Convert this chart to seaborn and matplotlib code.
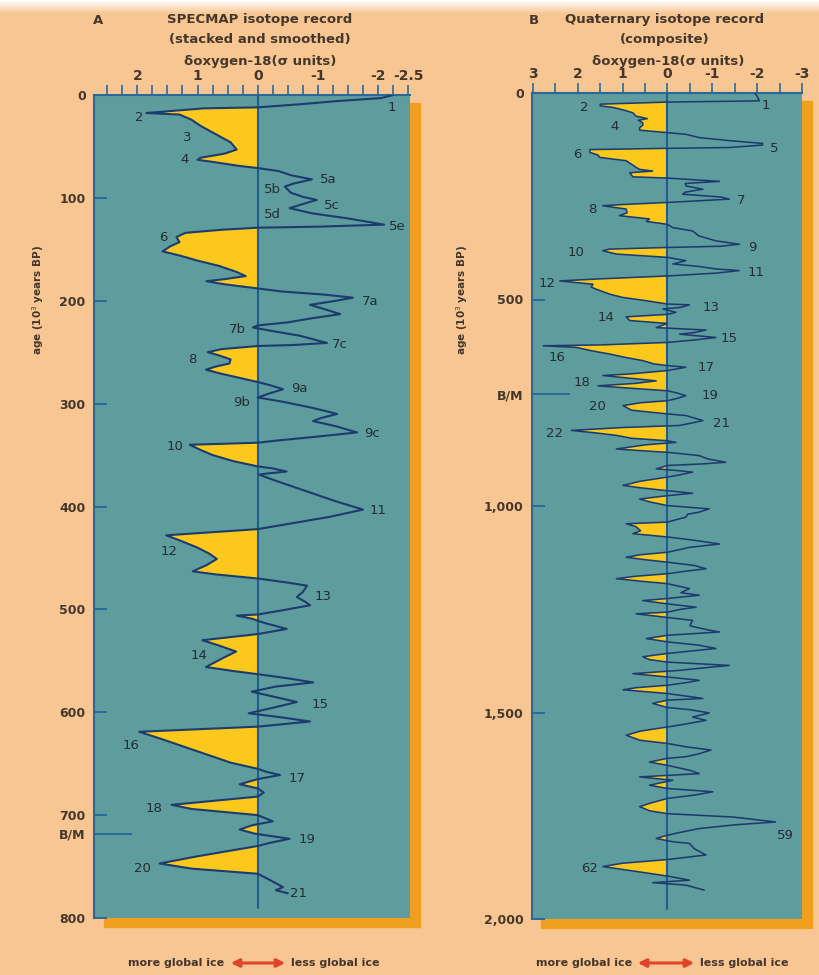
import numpy as np
import pandas as pd
import matplotlib
matplotlib.use("Agg")
import matplotlib.pyplot as plt
import seaborn as sns
from matplotlib.patches import Rectangle, FancyArrowPatch
from matplotlib.colors import LinearSegmentedColormap

# ---------------- data: panel A (SPECMAP) ----------------
ages_a = [0, 3, 6, 9, 12, 13, 17.5, 19, 24, 30, 38, 46, 53, 57, 61, 63, 65, 69, 71,
          74, 78, 82, 86, 89, 95, 99, 102, 106, 110, 115, 120, 124, 126, 128, 129,
          131, 134, 138, 143, 147, 152, 156, 161, 166, 172, 176, 179, 181, 184, 188,
          191, 194, 197, 200, 204, 208, 213, 217, 221, 224, 226, 229, 234, 241, 243, 244,
          247, 250, 253, 257, 261, 264, 267, 271, 275, 279,
          282, 286, 290, 294, 298, 304, 310, 314, 317, 322, 328, 332, 336, 338,
          340, 345, 350, 356, 361, 363, 366, 368, 369, 375, 385, 395, 403, 410, 416, 422,
          428, 434, 440, 446, 451, 457, 463, 466, 470,
          474, 477, 483, 488, 493, 496, 501, 505, 506, 509, 513, 519, 524,
          530, 535, 541, 548, 556, 560, 563,
          567, 571, 575, 580, 584, 590, 595, 601, 605, 609, 614,
          619, 626, 634, 642, 649, 655, 658, 661, 665, 670, 674, 678, 682,
          690, 694, 700, 706, 710, 714, 718, 723, 727, 730,
          740, 747, 752, 757, 763, 770, 773, 776]
d18o_a = [-2.25, -2.05, -1.3, -0.7, 0.0, 0.9, 1.85, 1.3, 1.1, 0.95, 0.7, 0.45, 0.35, 0.55, 0.95, 1.0, 0.75, 0.3, 0.0,
          -0.35, -0.55, -0.9, -0.6, -0.45, -0.55, -0.75, -0.98, -0.75, -0.53, -0.9, -1.5, -1.9, -2.1, -1.0, 0.0,
          0.6, 1.2, 1.35, 1.3, 1.45, 1.58, 1.3, 1.0, 0.65, 0.35, 0.2, 0.55, 0.85, 0.55, 0.0,
          -0.4, -1.1, -1.58, -1.3, -0.87, -1.1, -1.37, -0.9, -0.5, 0.0, 0.08, -0.2, -0.7, -1.15, -0.6, 0.0,
          0.6, 0.83, 0.65, 0.45, 0.47, 0.7, 0.86, 0.6, 0.3, 0.0,
          -0.2, -0.42, -0.2, 0.0, -0.4, -0.9, -1.32, -1.05, -0.92, -1.3, -1.65, -1.0, -0.3, 0.0,
          1.13, 0.95, 0.75, 0.4, 0.0, -0.25, -0.48, -0.15, -0.02, -0.3, -0.8, -1.3, -1.75, -1.2, -0.6, 0.0,
          1.52, 1.25, 1.0, 0.8, 0.68, 0.85, 1.08, 0.7, 0.0,
          -0.5, -0.82, -0.75, -0.65, -0.8, -0.87, -0.4, 0.0, 0.35, 0.1, -0.1, -0.48, 0.0,
          0.92, 0.65, 0.36, 0.6, 0.86, 0.4, 0.0,
          -0.5, -0.92, -0.3, 0.1, -0.2, -0.65, -0.3, 0.15, -0.4, -0.87, 0.0,
          1.97, 1.6, 1.2, 0.8, 0.45, 0.0, -0.15, -0.37, 0.0, 0.3, 0.0, -0.1, 0.0,
          1.43, 1.1, 0.0, -0.25, 0.1, 0.3, 0.05, -0.53, -0.2, 0.0,
          1.0, 1.63, 1.1, 0.0, -0.2, -0.42, -0.3, -0.5]

stage_a = ["1", "2", "3", "4", "5a", "5b", "5c", "5d", "5e", "6", "7a", "7b", "7c", "8",
           "9a", "9b", "9c", "10", "11", "12", "13", "14", "15", "16", "17", "18", "19", "20", "21"]
stage_a_x = [-2.23, 1.97, 1.17, 1.22, -1.17, -0.25, -1.23, -0.25, -2.32, 1.57, -1.87, 0.33, -1.37, 1.08,
             -0.7, 0.27, -1.9, 1.38, -2.0, 1.47, -1.08, 0.97, -1.03, 2.1, -0.65, 1.72, -0.82, 1.92, -0.67]
stage_a_age = [12, 22, 41, 63, 82, 92, 107, 116, 128, 139, 201, 228, 243, 257,
               285, 299, 329, 342, 404, 444, 487, 545, 592, 632, 664, 694, 724, 752, 776]

# ---------------- data: panel B (composite) ----------------
ages_b = [0, 8, 19, 22, 25, 27, 31, 35, 42, 48, 56, 62, 66, 72, 78, 84, 90, 96,
          100, 108, 116, 122, 126, 132, 134,
          137, 144, 150, 156, 164, 180, 185, 189, 193, 203, 206,
          211, 214, 219, 225, 233, 240, 245, 252, 257, 262, 265,
          270, 273, 281, 290, 297, 305, 311, 318,
          326, 334, 346, 358, 366, 371, 374,
          378, 382, 390, 398, 406, 414, 420, 426, 430, 436, 443,
          450, 455, 463, 470, 475, 487, 495, 503, 511,
          513, 519, 523, 531, 536, 542, 551, 558,
          568, 574, 580, 584, 592, 598, 604,
          610, 612, 616, 624, 632, 640, 648, 656, 660, 664, 668, 672,
          680, 684, 690, 697, 703, 709, 715, 721, 726, 733, 740, 745,
          750, 757, 768, 777, 781, 787, 793, 800, 805,
          810, 817, 823, 829, 836, 842, 846, 852, 862, 866, 870,
          878, 886, 894, 898, 902, 910, 914, 918, 924, 930, 940, 950, 956, 963,
          969, 975, 983, 990, 999, 1007, 1015, 1020, 1027, 1033, 1039,
          1043, 1050, 1060, 1067, 1075, 1083, 1092, 1100, 1112, 1118, 1124, 1130, 1136,
          1144, 1152, 1158, 1164, 1170, 1176, 1182, 1188, 1200, 1210, 1216, 1224,
          1229, 1237, 1245, 1250, 1257, 1261, 1266, 1270, 1277, 1290, 1300, 1305, 1313,
          1321, 1329, 1337, 1345, 1357, 1365, 1372, 1378, 1386, 1392, 1398, 1406, 1414,
          1422, 1428, 1434, 1440, 1445, 1454, 1466, 1470, 1478, 1488, 1493, 1501, 1511,
          1519, 1528, 1535, 1545, 1555, 1567, 1575, 1583, 1591, 1600, 1607, 1611,
          1620, 1628, 1640, 1648, 1656, 1664, 1676, 1684, 1692, 1700, 1708,
          1720, 1728, 1738, 1745, 1753, 1760, 1765, 1772, 1781, 1790, 1797,
          1805, 1813, 1817, 1830, 1845, 1856, 1865, 1873, 1880, 1886, 1896,
          1906, 1912, 1918, 1930]
d18o_b = [-1.95, -2.0, -2.05, 0.0, 0.9, 1.5, 1.5, 1.21, 0.95, 0.77, 0.7, 0.45, 0.65, 0.55, 0.55, 0.62, 0.62, 0.0,
          -0.41, -0.71, -1.45, -2.12, -2.12, -1.38, 0.0,
          1.73, 1.73, 1.55, 1.51, 0.92, 0.7, 0.62, 0.33, 0.84, 0.77, 0.0,
          -0.71, -1.16, -0.4, -0.41, -0.79, -0.4, -0.34, -1.2, -1.38, -0.5, 0.0,
          1.0, 1.44, 0.92, 0.9, 1.07, 0.4, 0.47, 0.0,
          -0.12, -0.56, -0.7, -1.08, -1.6, -1.2, 0.0,
          1.3, 1.44, 1.14, 0.0, -0.41, -0.12, -0.7, -1.08, -1.6, -1.1, 0.0,
          1.5, 2.4, 1.66, 1.7, 1.59, 1.29, 1.0, 0.47, 0.0,
          -0.49, -0.3, 0.1, -0.19, 0.0, 0.92, 0.84, 0.0,
          0.25, -0.86, -0.6, -0.27, -1.08, -0.6, 0.0,
          1.5, 2.77, 2.03, 1.7, 1.29, 0.95, 0.55, 0.3, 0.0, -0.41, -0.2, 0.0,
          0.8, 1.44, 0.9, 0.25, 0.7, 1.55, 0.8, 0.0, -0.2, -0.41, -0.2, 0.0,
          0.6, 0.99, 0.8, 0.0, -0.41, -0.6, -0.79, -0.5, -0.27,
          1.0, 2.14, 1.6, 1.14, 0.8, 0.0, -0.19, 0.5, 1.14, 0.6, 0.0,
          -0.71, -0.9, -1.3, -0.8, 0.0, 0.25, -0.2, -0.56, -0.3, 0.0, 0.6, 0.99, 0.6, 0.0,
          -0.56, 0.0, 0.62, 0.4, 0.0, -0.93, -0.7, -0.45, -0.41, -0.2, 0.0,
          0.92, 0.7, 0.6, 0.77, 0.0, -0.6, -1.16, -0.5, 0.0, 0.6, 0.92, 0.5, 0.0,
          -0.6, -0.86, -0.4, 0.0, 0.7, 1.14, 0.6, 0.0, -0.49, -0.3, -0.71, 0.0,
          0.55, 0.0, -0.64, -0.3, 0.0, 0.7, 0.3, 0.0, -0.56, -0.5, -0.9, -1.16, 0.0,
          0.47, 0.0, -0.7, -1.08, 0.0, 0.55, 0.4, 0.0, -1.38, -0.8, -0.27, 0.77, 0.0,
          -0.71, -0.4, 0.0, 0.7, 0.99, 0.0, -0.79, 0.0, 0.33, 0.0, -0.49, -0.93, -0.56,
          -0.86, -0.4, 0.0, 0.6, 0.92, 0.62, 0.0, -0.41, -0.97, -0.7, -0.41, 0.0,
          0.4, 0.0, -0.5, -0.71, 0.62, -0.12, 0.4, 0.0, -1.01, -0.6, 0.0,
          0.4, 0.62, 0.4, 0.0, -1.45, -2.0, -2.41, -1.5, -0.71, -0.3, 0.0,
          0.25, -0.12, -0.49, -0.6, -0.86, 0.0, 1.0, 1.44, 1.0, 0.62, 0.0,
          -0.49, 0.33, -0.41, -0.82]

stage_b = ["1", "2", "4", "5", "6", "7", "8", "9", "10", "11", "12", "13", "14", "15",
           "16", "17", "18", "19", "20", "21", "22", "59", "62"]
stage_b_x = [-2.2, 1.85, 1.18, -2.38, 2.02, -1.64, 1.67, -1.9, 2.05, -1.98, 2.69, -0.97, 1.36, -1.38,
             2.47, -0.87, 1.91, -0.95, 1.55, -1.2, 2.51, -2.64, 1.73]
stage_b_age = [31, 36, 80, 135, 148, 261, 281, 375, 385, 435, 462, 520, 544, 595,
               640, 665, 701, 733, 760, 800, 825, 1797, 1877]

xt_a = [2, 1, 0, -1, -2, -2.5]
xt_a_lbl = ["2", "1", "0", "-1", "-2", "-2.5"]
xt_b = [3, 2, 1, 0, -1, -2, -3]
xt_b_lbl = ["3", "2", "1", "0", "-1", "-2", "-3"]
yt_a = [0, 100, 200, 300, 400, 500, 600, 700, 800]
yt_a_lbl = ["0", "100", "200", "300", "400", "500", "600", "700", "800"]
bm_a = 718
yt_b = [0, 500, 1000, 1500, 2000]
yt_b_lbl = ["0", "500", "1,000", "1,500", "2,000"]
bm_b = 730

# ---------------- style ----------------
sns.set_style("white")
plt.rcParams['font.family'] = ['DejaVu Sans']
plt.rcParams['axes.unicode_minus'] = False

PEACH = "#F8C692"
TEAL = "#5E9C9E"
YELLOW = "#FDC81C"
LINE = "#1D3C6E"
ZERO = "#1F5E92"
SPINE = "#2A6A9A"
ORANGE = "#F0A01E"
TXT = "#45372C"
LAB = "#232D33"
RED = "#E0442A"

W, H = 819, 975
fig = plt.figure(figsize=(W / 100, H / 100), dpi=100)
fig.patch.set_facecolor(PEACH)


def rect(x0, y0, x1, y1):
    return [x0 / W, 1 - y1 / H, (x1 - x0) / W, (y1 - y0) / H]


def fx(x):
    return x / W


def fy(y):
    return 1 - y / H


# white haze at the very top
gax = fig.add_axes([0, 1 - 14 / H, 1, 14 / H])
grad = np.linspace(0, 1, 50).reshape(-1, 1)
cm = LinearSegmentedColormap.from_list("g", ["#FFFFFF", PEACH])
gax.imshow(grad, aspect="auto", cmap=cm, extent=[0, 1, 0, 1])
gax.axis("off")

# orange drop shadows
for (x0, y0, x1, y1) in [(104, 103, 420, 927), (541, 101, 812, 928)]:
    fig.add_artist(Rectangle((fx(x0), fy(y1)), (x1 - x0) / W, (y1 - y0) / H,
                             transform=fig.transFigure, color=ORANGE, zorder=-1))

axA = fig.add_axes(rect(94, 95, 410, 918))
axB = fig.add_axes(rect(532, 93, 802, 919))


def panel(ax, ages, vals, xlim, ymax, lw, xt, xtl, minor_step, yt, ytl, bm, labels, lx, lage):
    ax.set_facecolor(TEAL)
    a = np.asarray(ages, float)
    v = np.asarray(vals, float)
    ax.fill_betweenx(a, v, 0, where=v >= 0, interpolate=True, color=YELLOW, lw=0, zorder=2)
    ax.axvline(0, ymin=0.012, ymax=1, color=ZERO, lw=1.5, zorder=3)
    df = pd.DataFrame({"age": a, "d18o": v})
    sns.lineplot(data=df, x="d18o", y="age", orient="y", sort=False, estimator=None,
                 color=LINE, lw=lw, ax=ax, zorder=4)
    ax.set_xlim(*xlim)
    ax.set_ylim(ymax, 0)
    ax.set_xlabel("")
    ax.set_ylabel("")
    # top ruler
    ax.xaxis.tick_top()
    ax.set_xticks(xt)
    ax.set_xticklabels(xtl)
    ax.set_xticks([t for t in np.arange(-3, 3.01, minor_step) if min(xlim) <= t <= max(xlim)],
                  minor=True)
    ax.tick_params(axis="x", which="both", direction="out", length=7, width=1.2,
                   color=SPINE, top=True, bottom=False, labeltop=True, labelbottom=False,
                   pad=1.5, labelsize=10, labelcolor=TXT)
    ax.set_yticks(list(yt) + [bm])
    ax.set_yticklabels(list(ytl) + ["B/M"])
    ax.tick_params(axis="y", which="both", direction="in", length=9, width=1.4,
                   color=SPINE, left=True, right=False, pad=6, labelsize=9, labelcolor=TXT)
    ax.yaxis.get_major_ticks()[-1].tick1line.set_markersize(27)
    for t in ax.get_xticklabels() + ax.get_yticklabels():
        t.set_fontweight("bold")
    for s in ["left", "top"]:
        ax.spines[s].set_color(SPINE)
        ax.spines[s].set_linewidth(1.5)
    for s in ["right", "bottom"]:
        ax.spines[s].set_visible(False)
    for lab, x, y in zip(labels, lx, lage):
        ax.text(x, y, lab, ha="center", va="center", fontsize=9.5, color=LAB, zorder=6)


panel(axA, ages_a, d18o_a, (2.72, -2.53), 800, 1.5, xt_a, xt_a_lbl, 0.25,
      yt_a, yt_a_lbl, bm_a, stage_a, stage_a_x, stage_a_age)
panel(axB, ages_b, d18o_b, (3.02, -2.98), 2000, 1.15, xt_b, xt_b_lbl, 0.5,
      yt_b, yt_b_lbl, bm_b, stage_b, stage_b_x, stage_b_age)

# headings
kw = dict(ha="center", va="center", fontsize=9.5, color=TXT, fontweight="bold")
fig.text(fx(98), fy(20), "A", **kw)
fig.text(fx(260), fy(20), "SPECMAP isotope record", **kw)
fig.text(fx(260), fy(40), "(stacked and smoothed)", **kw)
fig.text(fx(260), fy(61), "δoxygen-18(σ units)", **kw)
fig.text(fx(534), fy(20), "B", **kw)
fig.text(fx(665), fy(20), "Quaternary isotope record", **kw)
fig.text(fx(665), fy(40), "(composite)", **kw)
fig.text(fx(668), fy(61), "δoxygen-18(σ units)", **kw)

# y labels
for x in (38, 462):
    fig.text(fx(x), fy(300), "age (10$^3$ years BP)", rotation=90, ha="center", va="center",
             fontsize=7.5, color=TXT, fontweight="bold")

# bottom ice arrows
for (xl, xa0, xa1, xr) in [(224, 228, 288, 291), (632, 635, 697, 700)]:
    fig.text(fx(xl), fy(963), "more global ice", ha="right", va="center", fontsize=8,
             color=TXT, fontweight="bold")
    fig.text(fx(xr), fy(963), "less global ice", ha="left", va="center", fontsize=8,
             color=TXT, fontweight="bold")
    fig.add_artist(FancyArrowPatch((fx(xa0), fy(963)), (fx(xa1), fy(963)),
                                   transform=fig.transFigure, arrowstyle="<|-|>",
                                   mutation_scale=12, lw=2.2, color=RED))

fig.savefig("out.png", dpi=100, facecolor=PEACH)
